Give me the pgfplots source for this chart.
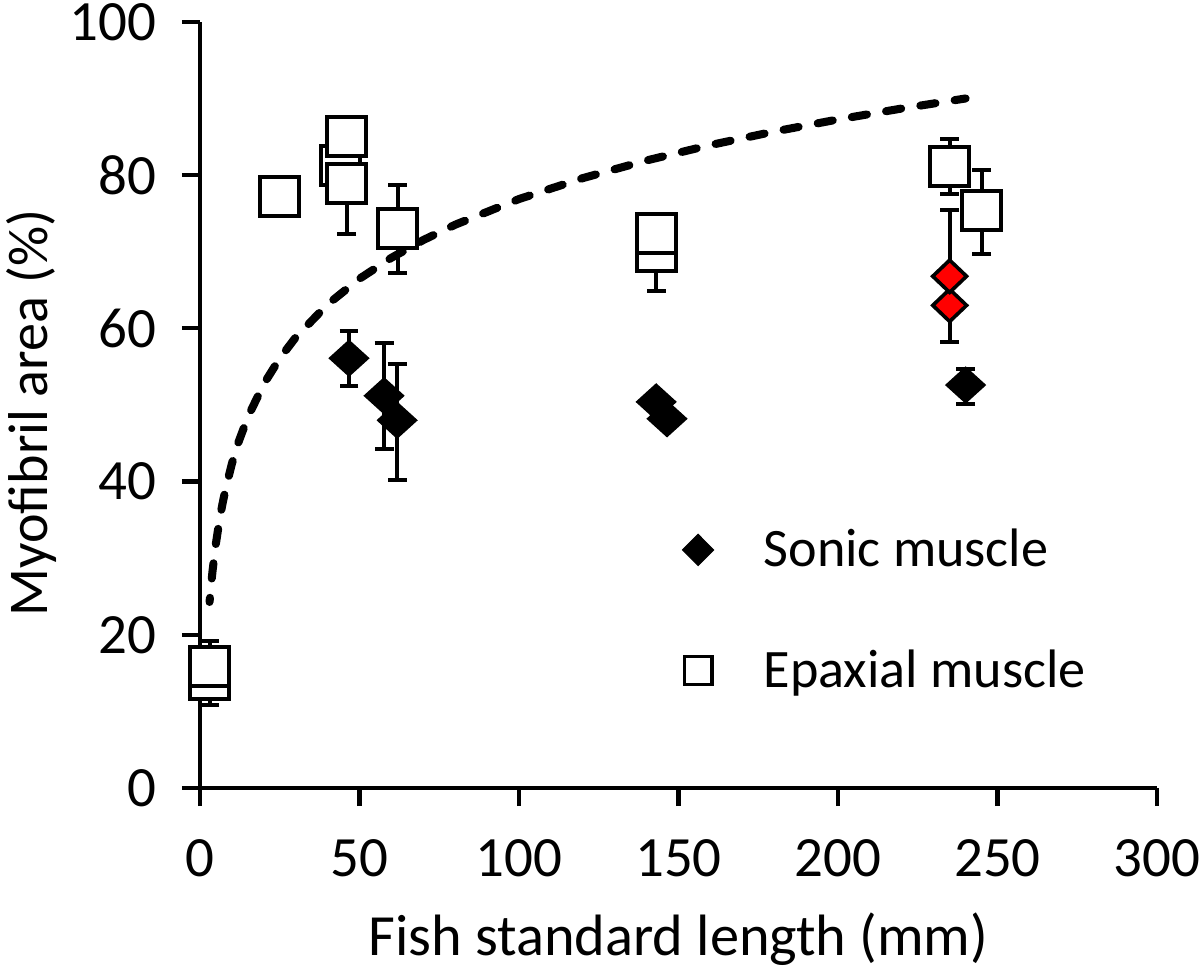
\documentclass[border=0pt]{standalone}
\usepackage{fontspec}
\setmainfont{Carlito}
\usepackage{pgfplots}
\pgfplotsset{compat=1.18}
\begin{document}
\begin{tikzpicture}
\begin{axis}[
  scale only axis,
  width=344.52pt, height=275.76pt,
  xmin=0, xmax=300, ymin=0, ymax=100,
  axis x line=bottom, axis y line=left,
  axis line style={-, line width=1.5pt},
  every tick/.style={black, line width=1.5pt},
  tick align=outside, major tick length=6.5pt,
  xtick={0,50,...,300}, ytick={0,20,...,100},
  minor tick num=0,
  font=\fontsize{19.5}{23}\selectfont,
  tick label style={font=\fontsize{20.5}{24}\selectfont},
  /pgf/number format/assume math mode=true,
  xticklabel style={anchor=base, inner sep=0pt, yshift=-25.2pt},
  yticklabel style={anchor=east, inner sep=0pt, xshift=-9pt},
  xlabel={Fish standard length (mm)},
  ylabel={Myofibril area (\%)},
  every axis x label/.style={at={(rel axis cs:0.5,0)}, anchor=base, yshift=-60.3pt,
    font=\fontsize{21}{25}\selectfont},
  every axis y label/.style={at={(rel axis cs:0,0.5)}, anchor=base, rotate=90,
    yshift=55pt, xshift=-2.9pt, font=\fontsize{20.2}{24}\selectfont},
  clip=false,
  legend style={draw=none, fill=none, at={(axis cs:151.1,34.6)}, anchor=north west,
    legend cell align=left, row sep=24.4pt, inner sep=0pt,
    font=\fontsize{19.5}{23}\selectfont,
    /tikz/every odd column/.append style={column sep=16pt}},
]
\coordinate (O) at (rel axis cs:0,0);
\coordinate (T) at (rel axis cs:1,1);

% error bars (drawn first, under markers)
\addplot[forget plot, only marks, mark=none,
  error bars/.cd, y dir=both, y explicit,
  error bar style={line width=1.44pt, black},
  error mark options={rotate=90, mark size=3.4pt, line width=1.44pt, black}]
coordinates {
  (3,15.9) += (0,3.3) -= (0,0)
  (3,14.2) += (0,0) -= (0,3.4)
  (46,78.9) += (0,0) -= (0,6.6)
  (62,73.0) += (0,5.7) -= (0,5.8)
  (143,70.0) += (0,0) -= (0,5.1)
  (235,81.1) += (0,3.6) -= (0,3.6)
  (245,75.4) += (0,5.3) -= (0,5.7)
  (46.7,56.1) += (0,3.6) -= (0,3.6)
  (57.7,51.2) += (0,6.9) -= (0,6.9)
  (61.8,48.0) += (0,7.3) -= (0,7.8)
  (240,52.6) += (0,2.1) -= (0,2.5)
  (235,66.8) += (0,8.7) -= (0,0)
  (235,63.0) += (0,0) -= (0,4.8)
};

% epaxial muscle (open squares)
\addplot[forget plot, only marks, mark=square*, mark size=7pt,
  mark options={fill=white, draw=black, line width=1.44pt}]
coordinates {
  (3,14.2) (3,15.9) (25,77.2) (44,81.3) (46,85.0) (46,78.9)
  (62,73.0) (143,70.0) (143,72.4) (235,81.1) (245,75.4)
};

% sonic muscle (black diamonds)
\addplot[forget plot, only marks, mark=diamond*, mark size=6.4pt,
  mark options={fill=black, draw=black, line width=0.5pt, xscale=1.47}]
coordinates {
  (46.7,56.1) (57.7,51.2) (61.8,48.0) (143,50.4) (146.4,48.2) (240,52.6)
};

% sonic muscle (red diamonds)
\addplot[forget plot, only marks, mark=diamond*, mark size=5.8pt,
  mark options={fill=red, draw=black, line width=1.3pt, xscale=1.4}]
coordinates {
  (235,63.0) (235,66.8)
};

% dashed fitted curve
\addplot[forget plot, black, line width=2.9pt, line cap=round,
  dash pattern=on 5.5pt off 7pt, dash phase=4pt]
coordinates {
  (3,24.28) (3.5,26.59) (4,28.59) (5,31.94) (6,34.68) (7,36.99) (8,38.99)
  (10,42.34) (12,45.07) (15,48.42) (20,52.74) (25,56.08) (30,58.82)
  (40,63.13) (50,66.48) (60,69.21) (70,71.53) (80,73.53) (100,76.88)
  (120,79.61) (140,81.92) (160,83.93) (180,85.69) (200,87.27)
  (220,88.70) (240,90.01)
};

\addlegendimage{only marks, mark=diamond*, mark size=5.6pt, mark options={fill=black, draw=black, line width=0.4pt, xscale=1.33}}
\addlegendimage{only marks, mark=square, mark size=5pt, mark options={draw=black, line width=1.1pt}}
\legend{Sonic muscle, Epaxial muscle}
\end{axis}
\pgfresetboundingbox
\path[use as bounding box] ([xshift=-72pt, yshift=-64.8pt]O) rectangle ([xshift=15.48pt, yshift=7.9pt]T);
\end{tikzpicture}
\end{document}
